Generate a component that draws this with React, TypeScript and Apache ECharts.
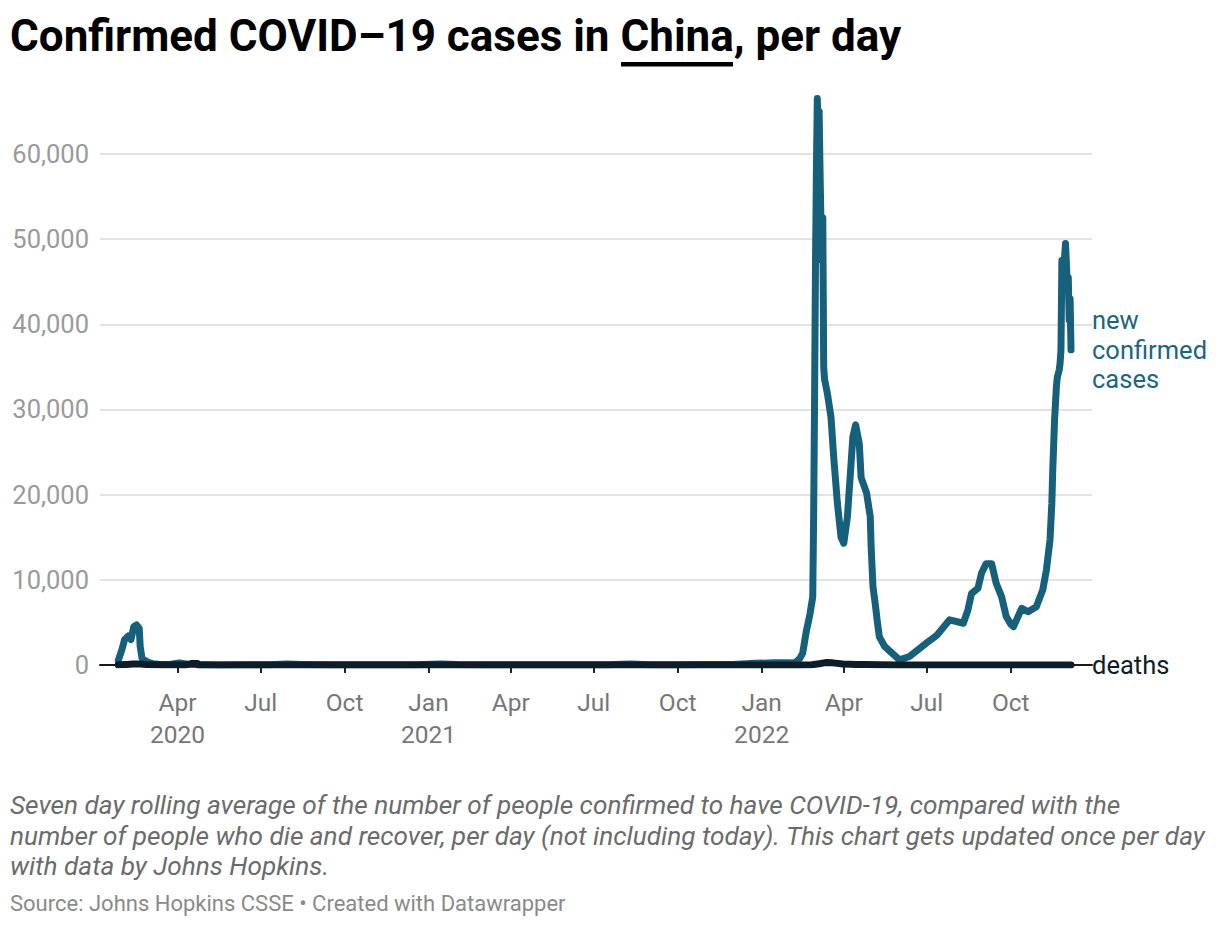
import React, { useEffect, useRef } from "react";
import * as echarts from "echarts";

// ---- data ----
const caseDates = [
  "2020-01-27", "2020-01-31", "2020-02-03", "2020-02-07", "2020-02-10", "2020-02-13", "2020-02-16",
  "2020-02-19", "2020-02-20", "2020-02-22", "2020-02-27", "2020-03-05", "2020-03-15", "2020-03-25",
  "2020-04-03", "2020-04-12", "2020-04-20", "2020-05-15", "2020-06-15", "2020-07-10", "2020-07-30",
  "2020-08-15", "2020-09-15", "2020-10-15", "2020-11-15", "2020-12-15", "2021-01-15", "2021-02-01",
  "2021-03-01", "2021-04-15", "2021-05-15", "2021-06-15", "2021-07-15", "2021-08-10", "2021-09-01",
  "2021-10-01", "2021-11-01", "2021-12-01", "2021-12-25", "2022-01-15", "2022-02-01", "2022-02-07",
  "2022-02-12", "2022-02-15", "2022-02-19", "2022-02-23", "2022-02-26", "2022-02-27", "2022-02-28",
  "2022-03-01", "2022-03-02", "2022-03-03", "2022-03-04", "2022-03-05", "2022-03-06", "2022-03-07",
  "2022-03-08", "2022-03-09", "2022-03-10", "2022-03-11", "2022-03-14", "2022-03-18", "2022-03-21",
  "2022-03-25", "2022-03-29", "2022-04-01", "2022-04-05", "2022-04-08", "2022-04-11", "2022-04-14",
  "2022-04-18", "2022-04-20", "2022-04-26", "2022-04-30", "2022-05-01", "2022-05-03", "2022-05-05",
  "2022-05-08", "2022-05-10", "2022-05-16", "2022-06-01", "2022-06-12", "2022-07-01", "2022-07-12",
  "2022-07-26", "2022-08-10", "2022-08-15", "2022-08-19", "2022-08-26", "2022-08-30", "2022-09-04",
  "2022-09-10", "2022-09-15", "2022-09-21", "2022-09-26", "2022-10-01", "2022-10-04", "2022-10-13",
  "2022-10-20", "2022-10-29", "2022-11-05", "2022-11-09", "2022-11-13", "2022-11-15", "2022-11-16",
  "2022-11-18", "2022-11-20", "2022-11-21", "2022-11-23", "2022-11-24", "2022-11-25", "2022-11-26",
  "2022-11-28", "2022-11-30", "2022-12-02", "2022-12-03", "2022-12-04", "2022-12-05", "2022-12-06",
];
const caseValues = [
  550, 1800, 3000, 3400, 3000, 4500, 4700,
  4300, 2200, 800, 400, 150, 40, 80,
  250, 100, 60, 10, 30, 20, 110,
  60, 20, 30, 20, 40, 130, 60,
  15, 20, 20, 30, 40, 110, 30,
  30, 60, 60, 200, 250, 250, 300,
  800, 1400, 4000, 6000, 8000, 17500, 31000,
  47000, 58000, 66500, 63000, 65000, 58000, 52000,
  47500, 52500, 35000, 33500, 31900, 29100, 24400,
  19000, 15000, 14300, 17400, 22100, 26800, 28200,
  26000, 22000, 20200, 17400, 13900, 9200, 7600,
  4900, 3300, 2150, 600, 1000, 2600, 3500,
  5300, 4900, 6450, 8400, 9000, 10800, 11900,
  11900, 9600, 8000, 5700, 4800, 4500, 6650,
  6250, 6850, 8800, 11150, 14700, 19000, 22900,
  28800, 32700, 33800, 34600, 35400, 37000, 47500,
  46500, 49500, 44500, 45500, 40500, 43000, 37000,
];

const deathDates = [
  "2020-01-27", "2020-02-05", "2020-02-12", "2020-02-20", "2020-02-27", "2020-03-10", "2020-04-10",
  "2020-04-17", "2020-04-23", "2020-04-24", "2020-06-01", "2021-06-01", "2021-12-31", "2022-02-10",
  "2022-02-25", "2022-03-05", "2022-03-12", "2022-03-20", "2022-03-31", "2022-04-15", "2022-04-25",
  "2022-05-10", "2022-06-01", "2022-11-20", "2022-12-06",
];
const deathValues = [
  25, 70, 110, 110, 50, 20, 5,
  185, 185, 2, 0, 0, 0, 5,
  40, 150, 280, 250, 120, 60, 50,
  30, 3, 1, 3,
];

const tickDates = [
  "2020-04-01", "2020-07-01", "2020-10-01", "2021-01-01", "2021-04-01", "2021-07-01",
  "2021-10-01", "2022-01-01", "2022-04-01", "2022-07-01", "2022-10-01",
];
const tickLabels = ["Apr\n2020", "Jul", "Oct", "Jan\n2021", "Apr", "Jul", "Oct", "Jan\n2022", "Apr", "Jul", "Oct"];

const CASES_COLOR = "#17607b";
const DEATHS_COLOR = "#0d1c29";

function ts(s: string): number {
  const [y, m, d] = s.split("-").map(Number);
  return new Date(y, m - 1, d).getTime();
}

export default function App() {
  const ref = useRef<HTMLDivElement>(null);

  useEffect(() => {
    if (!ref.current) return;
    const chart = echarts.init(ref.current, null, { renderer: "svg" });
    const tickTs = tickDates.map(ts);
    const casesData = caseDates.map((d, i) => [ts(d), caseValues[i]]);
    const deathsData = deathDates.map((d, i) => [ts(d), deathValues[i]]);
    const gridColors = ["#e3e3e3", "#e3e3e3", "#e3e3e3", "#e3e3e3", "#e3e3e3", "#e3e3e3", "#e3e3e3", "rgba(0,0,0,0)"];

    chart.setOption({
      animation: false,
      backgroundColor: "#ffffff",
      textStyle: { fontFamily: "Roboto" },
      grid: { left: 100, right: 128, top: 68.8, bottom: 261, containLabel: false },
      xAxis: {
        type: "value",
        min: ts("2020-01-07"),
        max: ts("2022-12-29"),
        axisLine: { show: true, onZero: false, lineStyle: { color: "#1a1a1a", width: 2 } },
        axisTick: { show: true, customValues: tickTs, length: 8, lineStyle: { color: "#222", width: 2 } },
        axisLabel: {
          customValues: tickTs,
          formatter: (v: number) => {
            const i = tickTs.findIndex((t) => Math.abs(t - v) < 12 * 3600 * 1000);
            return i >= 0 ? tickLabels[i] : "";
          },
          color: "#777",
          fontSize: 24.5,
          lineHeight: 32,
          fontFamily: "Roboto",
          margin: 21,
        },
        splitLine: { show: false },
      },
      yAxis: {
        type: "value",
        min: 0,
        max: 70000,
        interval: 10000,
        axisLine: { show: false },
        axisTick: { show: false },
        axisLabel: {
          showMaxLabel: false,
          formatter: (v: number) => (v >= 70000 ? "" : v.toLocaleString("en-US")),
          color: "#9a9a9a",
          fontSize: 25.5,
          fontFamily: "Roboto",
          margin: 11,
        },
        splitLine: { show: true, lineStyle: { color: gridColors, width: 2 } },
      },
      series: [
        {
          type: "line",
          name: "new confirmed cases",
          data: casesData,
          showSymbol: false,
          symbol: "none",
          silent: true,
          z: 2,
          lineStyle: { color: CASES_COLOR, width: 7, cap: "round", join: "round" },
          itemStyle: { color: CASES_COLOR },
          endLabel: {
            show: true,
            formatter: "new\nconfirmed\ncases",
            color: "#1c6680",
            fontSize: 25.5,
            lineHeight: 29.5,
            fontFamily: "Roboto",
            distance: 21,
          },
        },
        {
          type: "line",
          name: "deaths",
          data: deathsData,
          showSymbol: false,
          symbol: "none",
          silent: true,
          z: 3,
          lineStyle: { color: DEATHS_COLOR, width: 7, cap: "round", join: "round" },
          itemStyle: { color: DEATHS_COLOR },
          endLabel: {
            show: true,
            formatter: "deaths",
            color: DEATHS_COLOR,
            fontSize: 25.5,
            fontFamily: "Roboto",
            distance: 21,
          },
        },
      ],
      graphic: [
        {
          type: "text",
          x: 10,
          y: 36,
          style: {
            text: "Confirmed COVID–19 cases in China, per day",
            fontSize: 44,
            fontWeight: "bold",
            fontFamily: "Roboto",
            fill: "#000",
            verticalAlign: "middle",
          },
        },
        {
          type: "rect",
          shape: { x: 621, y: 62, width: 112, height: 4.5 },
          style: { fill: "#000" },
        },
        {
          type: "text",
          x: 10,
          y: 790,
          style: {
            text:
              "Seven day rolling average of the number of people confirmed to have COVID-19, compared with the\nnumber of people who die and recover, per day (not including today). This chart gets updated once per day\nwith data by Johns Hopkins.",
            fontSize: 26.2,
            lineHeight: 30.5,
            fontStyle: "italic",
            fontFamily: "Roboto",
            fill: "#6b6b6b",
            verticalAlign: "top",
          },
        },
        {
          type: "text",
          x: 10,
          y: 903,
          style: {
            text: "Source: Johns Hopkins CSSE • Created with Datawrapper",
            fontSize: 22,
            fontFamily: "Roboto",
            fill: "#8a8a8a",
            verticalAlign: "middle",
          },
        },
      ],
    });

    return () => chart.dispose();
  }, []);

  return <div ref={ref} style={{ position: "absolute", left: 0, top: 0, width: 1220, height: 926 }} />;
}
